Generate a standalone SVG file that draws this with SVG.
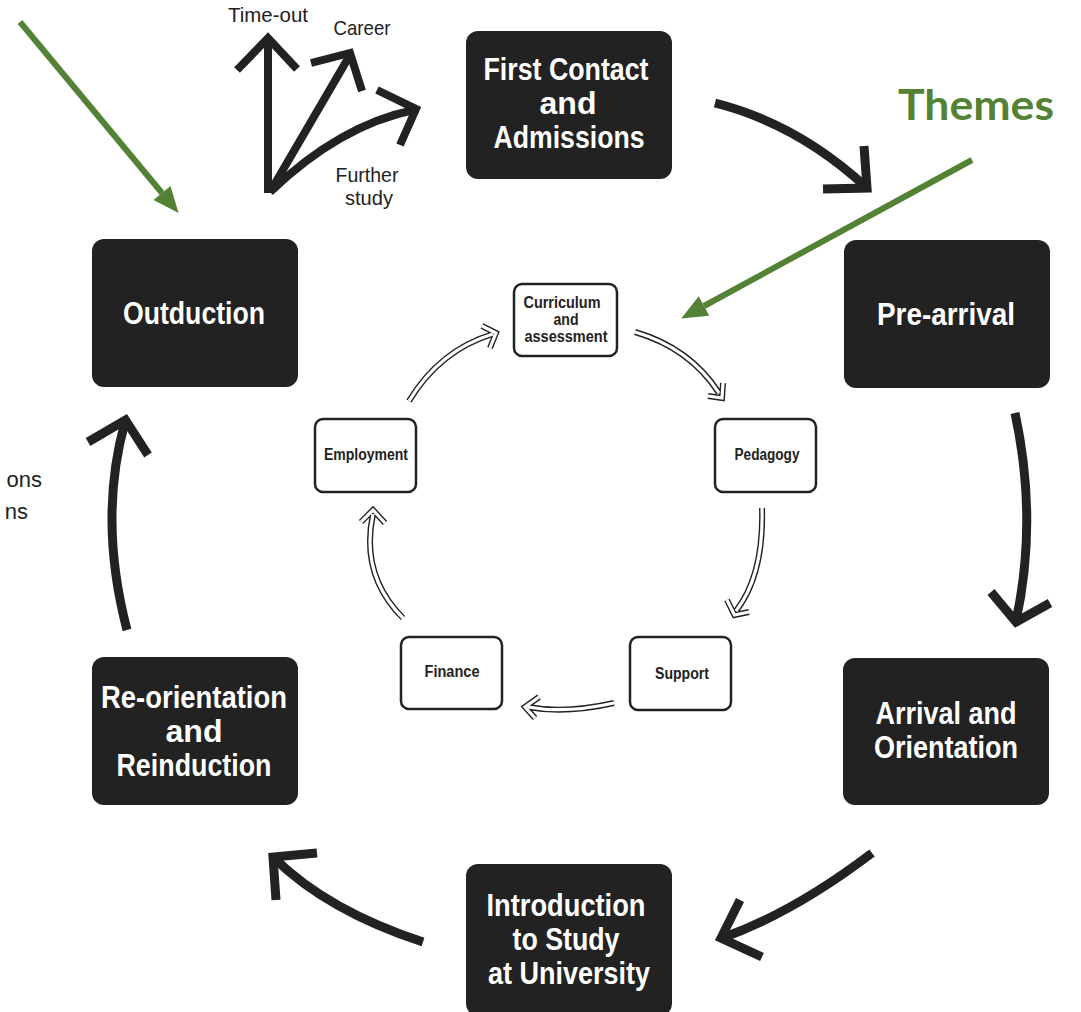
<svg xmlns="http://www.w3.org/2000/svg" xmlns:xlink="http://www.w3.org/1999/xlink" width="1081" height="1012" viewBox="0 0 1081 1012">
<style>
.stage{fill:#222222;}
.stxt{fill:#ffffff;font-family:"Liberation Sans Narrow","Liberation Sans",Arial,sans-serif;font-weight:bold;font-size:31px;text-anchor:middle;}
.theme{fill:#ffffff;stroke:#222222;stroke-width:2.5;}
.ttxt{fill:#222222;font-family:"Liberation Sans Narrow","Liberation Sans",Arial,sans-serif;font-weight:bold;font-size:16px;text-anchor:middle;}
.big{fill:none;stroke:#222222;stroke-width:9;stroke-linecap:butt;stroke-linejoin:miter;}
.opt{fill:none;stroke:#222222;stroke-width:8;stroke-linecap:butt;stroke-linejoin:miter;}
.otxt{fill:#222222;font-family:"Liberation Sans Narrow","Liberation Sans",Arial,sans-serif;font-size:21px;text-anchor:middle;}
.ltxt{fill:#222222;font-family:"Liberation Sans",Arial,sans-serif;font-size:22px;text-anchor:end;}
.dblo{fill:none;stroke:#222222;stroke-width:6;stroke-linejoin:miter;}
.dbli{fill:none;stroke:#ffffff;stroke-width:3.2;stroke-linejoin:miter;}
.green{fill:none;stroke:#548235;stroke-width:6;}
.gtxt{fill:#548235;font-family:Lato,"Open Sans","Liberation Sans",sans-serif;font-weight:bold;font-size:42px;}
</style>
<defs>
<marker id="gh" markerUnits="userSpaceOnUse" markerWidth="26" markerHeight="22" refX="0" refY="11" orient="auto" overflow="visible">
<path d="M0,0 L26,11 L0,22 z" fill="#548235"/>
</marker>
<path id="a1" d="M635,332 Q690,348 719,393 M708,396 L722,398 L723,383"/>
<path id="a2" d="M762,508 Q764,575 736,611 M727,600 L734.5,615 L749,612"/>
<path id="a3" d="M614,703 Q565,714 528,707 M539,697 L525,707 L535,718"/>
<path id="a4" d="M403,618 Q360,575 373,514 M361,522 L373,510 L385,523"/>
<path id="a5" d="M409,401 Q440,350 493,334 M482,326 L496,333 L490,348"/>
</defs>

<g id="connectors">
<path class="big" d="M715,103 Q798,124 866,187"/>
<polyline class="big" points="864,146 867,188 823,189"/>
<path class="big" d="M1015,413 Q1038,520 1016,621"/>
<polyline class="big" points="991,592 1016,622 1050,603"/>
<path class="big" d="M872,853 Q793,913 722,938"/>
<polyline class="big" points="740,900 721,938 762,957"/>
<path class="big" d="M423,942 Q328,911 274,858"/>
<polyline class="big" points="317,853 273,857 276,900"/>
<path class="big" d="M127,630 Q98,519 125,422"/>
<polyline class="big" points="88,442 125.5,420 148,455"/>
<path class="opt" d="M268,193 L268,40"/>
<polyline class="opt" points="237,70 268,38 297,69"/>
<path class="opt" d="M270,192 L350,55"/>
<polyline class="opt" points="311,63 350,53 362,91"/>
<path class="opt" d="M270,192 Q340,125 414,110"/>
<polyline class="opt" points="377,90 416,109 400,145"/>
<use xlink:href="#a1" class="dblo"/><use xlink:href="#a1" class="dbli"/>
<use xlink:href="#a2" class="dblo"/><use xlink:href="#a2" class="dbli"/>
<use xlink:href="#a3" class="dblo"/><use xlink:href="#a3" class="dbli"/>
<use xlink:href="#a4" class="dblo"/><use xlink:href="#a4" class="dbli"/>
<use xlink:href="#a5" class="dblo"/><use xlink:href="#a5" class="dbli"/>
<path class="green" d="M20,22 L162,193" marker-end="url(#gh)"/>
<path class="green" d="M972,160 L704,306" marker-end="url(#gh)"/>
</g>

<g id="labels">
<text class="otxt" x="268" y="22" textLength="80" lengthAdjust="spacingAndGlyphs">Time-out</text>
<text class="otxt" x="362" y="35" textLength="57" lengthAdjust="spacingAndGlyphs">Career</text>
<text class="otxt" x="367" y="182" textLength="63" lengthAdjust="spacingAndGlyphs">Further</text>
<text class="otxt" x="369" y="205" textLength="48" lengthAdjust="spacingAndGlyphs">study</text>
<text class="ltxt" x="42" y="487">ons</text>
<text class="ltxt" x="28" y="519">ns</text>
<text class="gtxt" x="898" y="120" textLength="156" lengthAdjust="spacingAndGlyphs">Themes</text>
</g>

<g id="first-contact">
<rect class="stage" x="466" y="31" width="206" height="148" rx="12"/>
<text class="stxt" x="566" y="80" textLength="165" lengthAdjust="spacingAndGlyphs">First Contact</text>
<text class="stxt" x="568" y="114" textLength="57" lengthAdjust="spacingAndGlyphs">and</text>
<text class="stxt" x="569" y="148" textLength="151" lengthAdjust="spacingAndGlyphs">Admissions</text>
</g>
<g id="pre-arrival">
<rect class="stage" x="844" y="240" width="206" height="148" rx="12"/>
<text class="stxt" x="946" y="325" textLength="138" lengthAdjust="spacingAndGlyphs">Pre-arrival</text>
</g>
<g id="arrival">
<rect class="stage" x="843" y="658" width="206" height="147" rx="12"/>
<text class="stxt" x="946" y="724" textLength="141" lengthAdjust="spacingAndGlyphs">Arrival and</text>
<text class="stxt" x="946" y="758" textLength="144" lengthAdjust="spacingAndGlyphs">Orientation</text>
</g>
<g id="introduction">
<rect class="stage" x="466" y="864" width="206" height="152" rx="12"/>
<text class="stxt" x="566" y="916" textLength="159" lengthAdjust="spacingAndGlyphs">Introduction</text>
<text class="stxt" x="566" y="950" textLength="107" lengthAdjust="spacingAndGlyphs">to Study</text>
<text class="stxt" x="569" y="984" textLength="162" lengthAdjust="spacingAndGlyphs">at University</text>
</g>
<g id="reorientation">
<rect class="stage" x="92" y="657" width="206" height="148" rx="12"/>
<text class="stxt" x="194" y="708" textLength="186" lengthAdjust="spacingAndGlyphs">Re-orientation</text>
<text class="stxt" x="194" y="742" textLength="57" lengthAdjust="spacingAndGlyphs">and</text>
<text class="stxt" x="194" y="776" textLength="155" lengthAdjust="spacingAndGlyphs">Reinduction</text>
</g>
<g id="outduction">
<rect class="stage" x="92" y="239" width="206" height="148" rx="12"/>
<text class="stxt" x="194" y="324" textLength="142" lengthAdjust="spacingAndGlyphs">Outduction</text>
</g>

<g id="curriculum">
<rect class="theme" x="514" y="284" width="103" height="72" rx="8"/>
<text class="ttxt" x="562" y="308" textLength="77" lengthAdjust="spacingAndGlyphs">Curriculum</text>
<text class="ttxt" x="566" y="325" textLength="25" lengthAdjust="spacingAndGlyphs">and</text>
<text class="ttxt" x="566" y="342" textLength="83" lengthAdjust="spacingAndGlyphs">assessment</text>
</g>
<g id="pedagogy">
<rect class="theme" x="715" y="419" width="101" height="73" rx="8"/>
<text class="ttxt" x="767" y="460" textLength="65" lengthAdjust="spacingAndGlyphs">Pedagogy</text>
</g>
<g id="support">
<rect class="theme" x="630" y="637" width="101" height="73" rx="8"/>
<text class="ttxt" x="682" y="679" textLength="54" lengthAdjust="spacingAndGlyphs">Support</text>
</g>
<g id="finance">
<rect class="theme" x="401" y="637" width="101" height="72" rx="8"/>
<text class="ttxt" x="452" y="677" textLength="55" lengthAdjust="spacingAndGlyphs">Finance</text>
</g>
<g id="employment">
<rect class="theme" x="315" y="419" width="101" height="73" rx="8"/>
<text class="ttxt" x="366" y="460" textLength="84" lengthAdjust="spacingAndGlyphs">Employment</text>
</g>
</svg>
